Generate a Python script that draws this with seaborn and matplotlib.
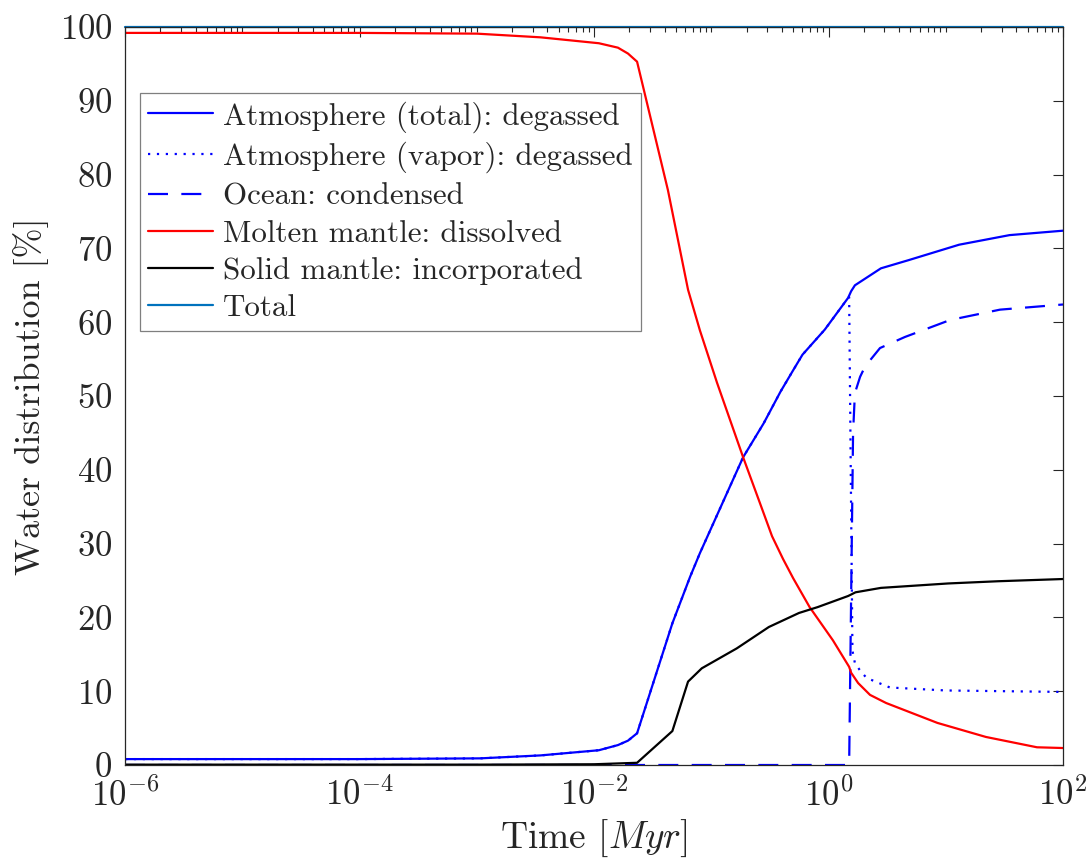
import numpy as np
import pandas as pd
import seaborn as sns
import matplotlib
matplotlib.use("Agg")
import matplotlib.pyplot as plt
from matplotlib.ticker import LogLocator, FixedLocator, NullFormatter, LogFormatterMathtext

# ---------------- data ----------------
t_atm = [1e-6, 1e-5, 1e-4, 1.07e-3, 3.5e-3, 1.1e-2, 1.6e-2, 1.95e-2, 2.33e-2, 4.66e-2, 6.6e-2,
         8.0e-2, 0.187, 0.28, 0.39, 0.50, 0.60, 0.93, 1.24, 1.47, 1.56, 1.68, 2.8, 4.8, 13, 35, 100]
atm_total = [0.8, 0.8, 0.8, 0.9, 1.3, 2.0, 2.7, 3.3, 4.3, 19.2, 25.5,
             28.7, 41.7, 46.3, 50.6, 53.5, 55.6, 59.0, 61.7, 63.3, 64.2, 65.0, 67.3, 68.4, 70.5, 71.8, 72.4]

t_vap = [1e-6, 1e-5, 1e-4, 1.07e-3, 3.5e-3, 1.1e-2, 1.6e-2, 1.95e-2, 2.33e-2, 4.66e-2, 6.6e-2,
         8.0e-2, 0.187, 0.28, 0.39, 0.50, 0.60, 0.93, 1.24, 1.47, 1.50, 1.60, 1.68, 1.86, 2.11, 3.34, 10, 100]
atm_vapor = [0.8, 0.8, 0.8, 0.9, 1.3, 2.0, 2.7, 3.3, 4.3, 19.2, 25.5,
             28.7, 41.7, 46.3, 50.6, 53.5, 55.6, 59.0, 61.7, 63.3, 63.4, 15.5, 13.8, 12.8, 11.8, 10.5, 10.1, 9.9]

t_ocean = [1e-6, 1e-3, 1e-1, 1.50, 1.62, 1.68, 1.86, 2.05, 2.75, 4.49, 10.9, 29, 100]
ocean = [0.0, 0.0, 0.0, 0.0, 45.0, 50.4, 52.6, 54.0, 56.5, 58.0, 60.3, 61.7, 62.4]

t_melt = [1e-6, 1e-5, 1e-4, 1e-3, 3.5e-3, 1.1e-2, 1.6e-2, 1.95e-2, 2.33e-2, 4.27e-2, 6.34e-2,
          8.0e-2, 0.112, 0.187, 0.26, 0.33, 0.41, 0.50, 0.69, 1.09, 1.50, 1.56, 1.79, 2.26, 3.1, 8.5, 22, 60, 100]
melt = [99.2, 99.2, 99.2, 99.1, 98.6, 97.8, 97.2, 96.4, 95.3, 77.9, 64.4,
        58.9, 51.8, 41.7, 35.5, 31.0, 27.9, 25.3, 21.4, 16.9, 13.3, 12.5, 11.1, 9.5, 8.4, 5.7, 3.8, 2.4, 2.3]

t_solid = [1e-6, 1e-4, 1e-3, 1e-2, 2.33e-2, 4.66e-2, 6.34e-2, 8.3e-2, 0.165, 0.31, 0.56, 0.81,
           1.47, 1.56, 1.7, 2.8, 10.5, 28, 100]
solid = [0.05, 0.05, 0.05, 0.1, 0.3, 4.6, 11.3, 13.1, 15.8, 18.7, 20.6, 21.4,
         22.9, 23.1, 23.4, 24.0, 24.6, 24.9, 25.2]

t_total = [1e-6, 1e-2, 1, 100]
total = [100, 100, 100, 100]

labels = ["Atmosphere (total): degassed", "Atmosphere (vapor): degassed",
          "Ocean: condensed", "Molten mantle: dissolved",
          "Solid mantle: incorporated", "Total"]
x_major = [1e-6, 1e-4, 1e-2, 1e0, 1e2]
y_ticks = [0, 10, 20, 30, 40, 50, 60, 70, 80, 90, 100]

# ---------------- style ----------------
sns.set_style("white")
plt.rcParams["font.family"] = ["cmr10"]
plt.rcParams["mathtext.fontset"] = "cm"
plt.rcParams["axes.unicode_minus"] = False
plt.rcParams["axes.formatter.use_mathtext"] = True

fig = plt.figure(figsize=(10.92, 8.66), dpi=100)
ax = fig.add_axes([125 / 1092, 101 / 866, 938 / 1092, 738 / 866])

lw = 1.6
kw = dict(ax=ax, estimator=None, sort=False, linewidth=lw)
sns.lineplot(x=t_atm, y=atm_total, color="#0000FF", linestyle="-", label=labels[0], **kw)
sns.lineplot(x=t_vap, y=atm_vapor, color="#0000FF", linestyle=(0, (1, 3)), label=labels[1], **kw)
sns.lineplot(x=t_ocean, y=ocean, color="#0000FF", linestyle=(0, (9, 6)), label=labels[2], **kw)
sns.lineplot(x=t_melt, y=melt, color="#FF0000", linestyle="-", label=labels[3], **kw)
sns.lineplot(x=t_solid, y=solid, color="#000000", linestyle="-", label=labels[4], **kw)
sns.lineplot(x=t_total, y=total, color="#0072BD", linestyle="-", label=labels[5], **kw)
ax.lines[-1].set_clip_on(False)

ax.set_xscale("log")
ax.set_xlim(1e-6, 1e2)
ax.set_ylim(0, 100)
ax.xaxis.set_major_locator(FixedLocator(x_major))
ax.xaxis.set_major_formatter(LogFormatterMathtext())
ax.xaxis.set_minor_locator(LogLocator(base=10, subs=np.arange(1, 10), numticks=200))
ax.xaxis.set_minor_formatter(NullFormatter())
ax.set_yticks(y_ticks)

spine_col = "#262626"
for s in ax.spines.values():
    s.set_visible(True)
    s.set_color(spine_col)
    s.set_linewidth(0.9)
ax.tick_params(which="both", direction="in", top=True, right=True, color=spine_col,
               labelsize=25, labelcolor="#262626")
ax.tick_params(which="major", length=7, width=0.8)
ax.tick_params(axis="x", which="major", pad=9)
ax.tick_params(axis="y", which="major", pad=9)
ax.tick_params(which="minor", length=3.5, width=0.8)

ax.set_xlabel("Time [$Myr$]", fontsize=27, color="#262626", labelpad=4)
ax.set_ylabel("Water distribution [%]", fontsize=26, color="#262626", labelpad=8)

leg = ax.legend(loc="upper left", bbox_to_anchor=(0.016, 0.911), borderaxespad=0,
                fontsize=22.3, frameon=True, fancybox=False, framealpha=1,
                edgecolor="#7f7f7f", handlelength=2.1, handletextpad=0.3,
                labelspacing=0.3, borderpad=0.27)
leg.get_frame().set_linewidth(0.9)

fig.savefig("out.png", dpi=100)
